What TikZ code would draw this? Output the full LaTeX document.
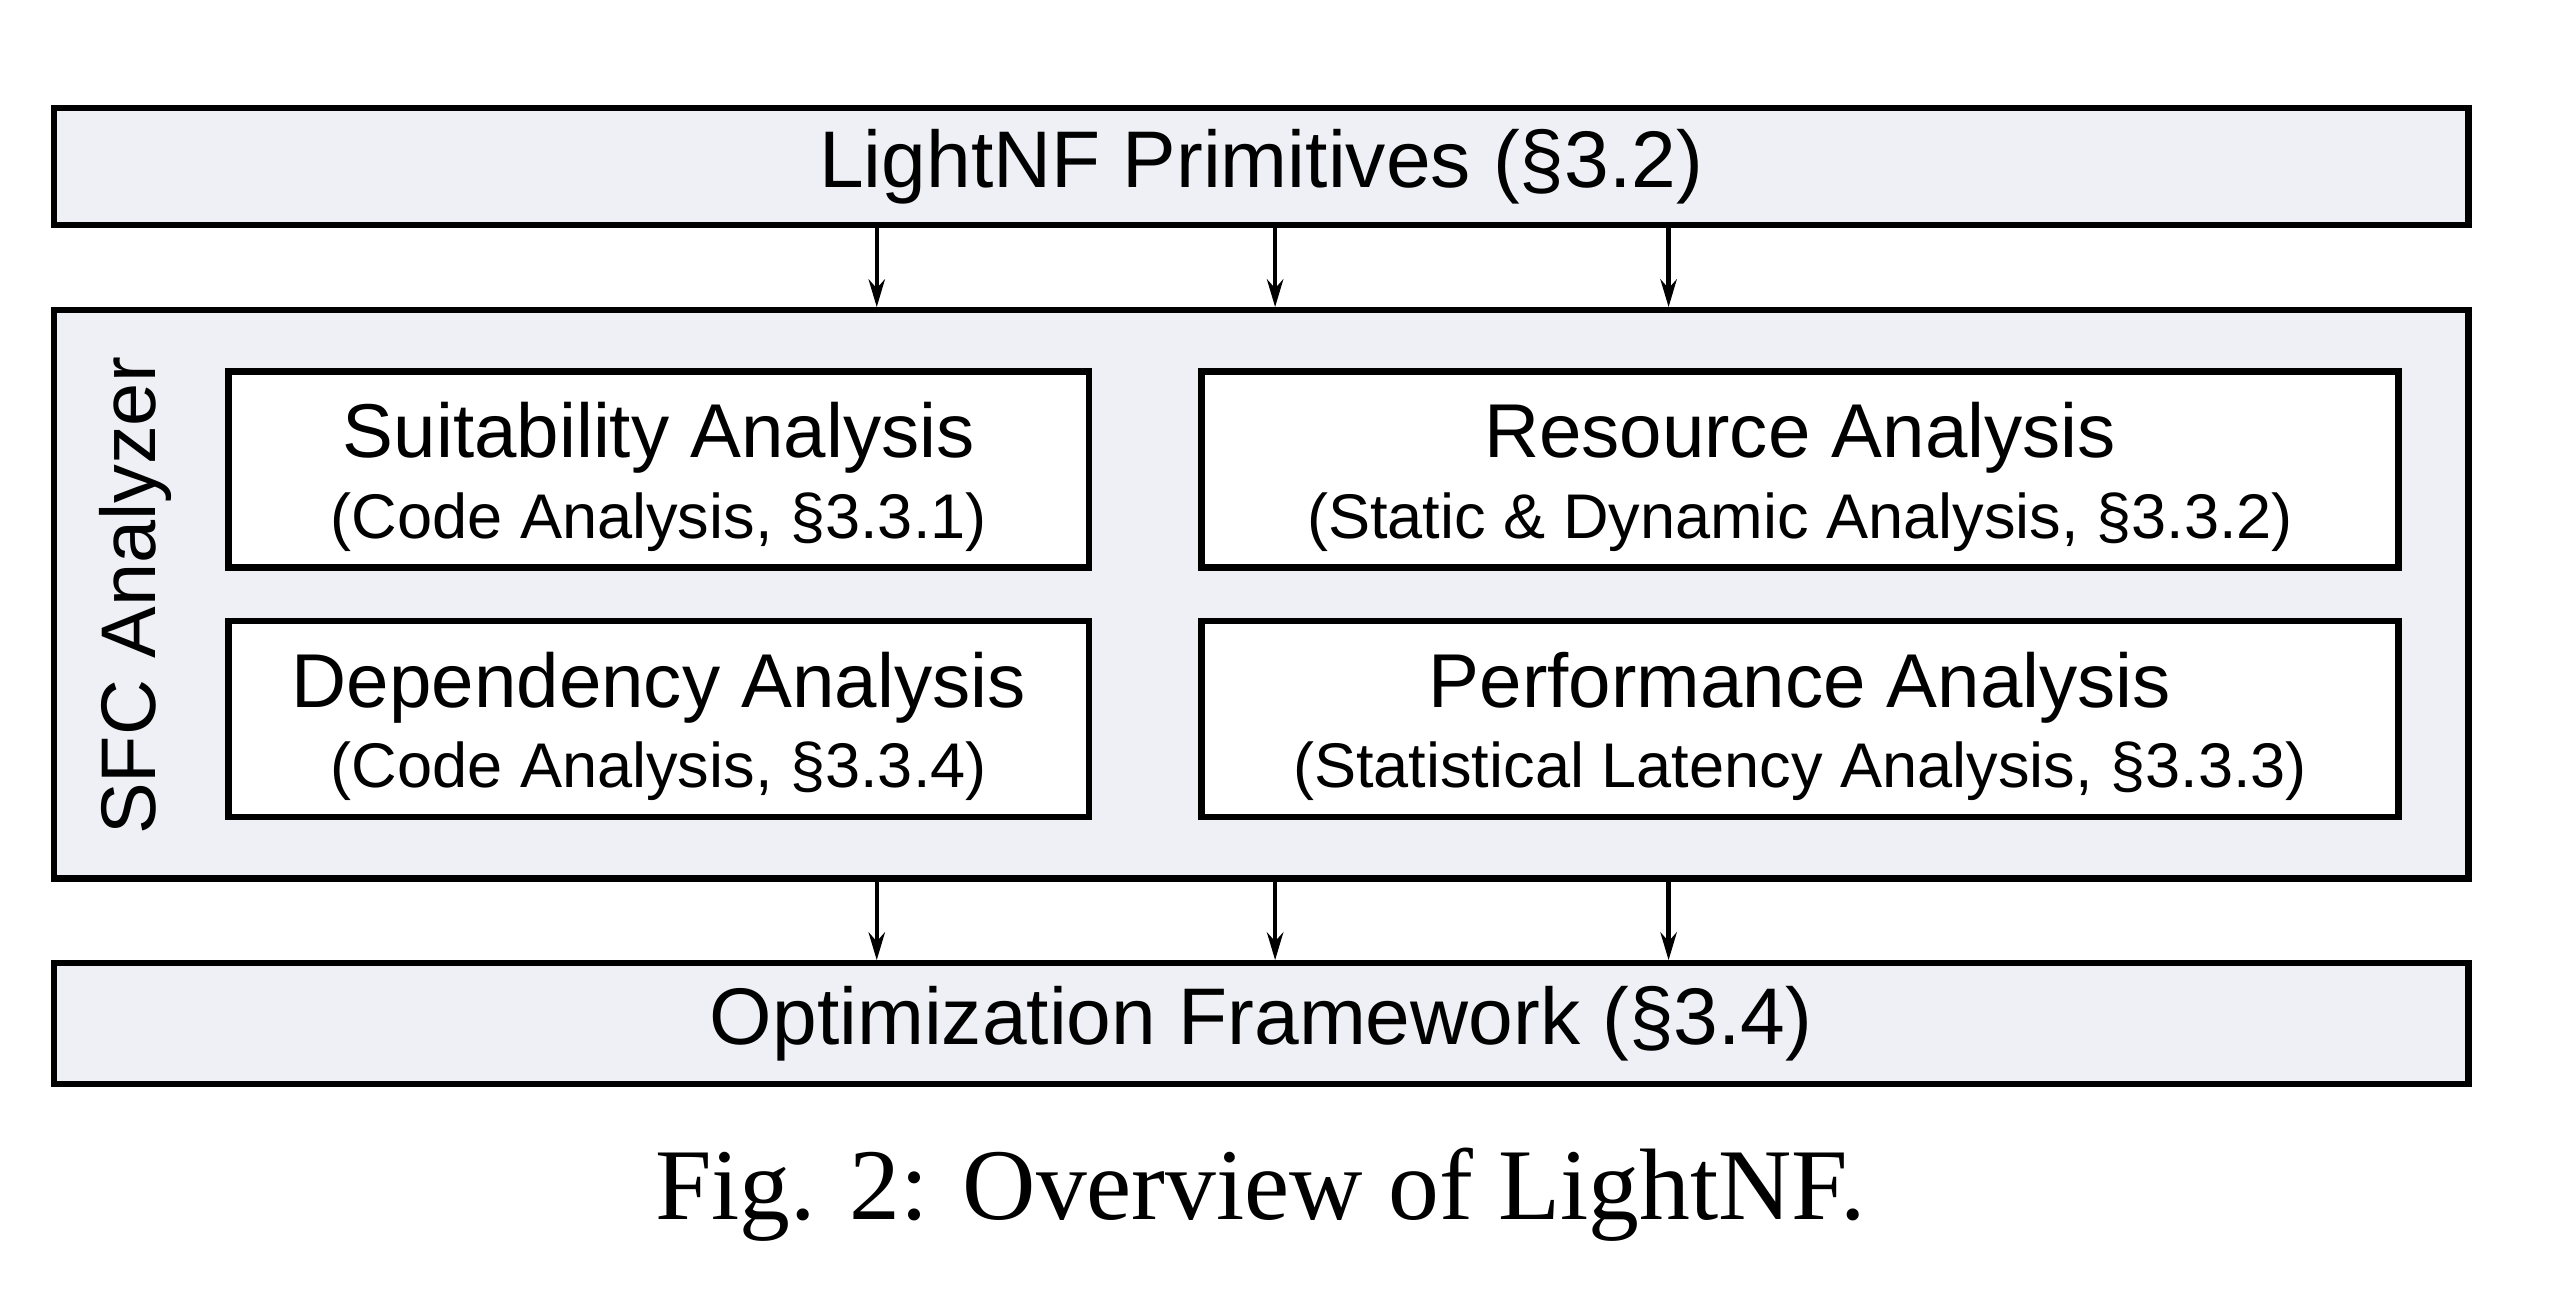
\documentclass[tikz,border=0pt]{standalone}
\usepackage{fontspec}
\newfontfamily\diagfont{Liberation Sans}
\newfontfamily\capfont{Liberation Serif}
\usetikzlibrary{arrows.meta}
\definecolor{panelgray}{RGB}{239,240,245}

\begin{document}
\begin{tikzpicture}[
	bar/.style={draw,line width=1.1pt,fill=panelgray,minimum width=14.79cm,inner sep=0pt,font=\diagfont\fontsize{14}{17}\selectfont},
	card/.style={draw,line width=1.1pt,fill=white,minimum height=1.2cm,inner sep=0pt,align=center,font=\diagfont\fontsize{13.3}{14}\selectfont},
	flow/.style={-{Stealth[length=0.17cm,width=0.1cm]},line width=0.75pt}]
	\useasboundingbox (0,0) rectangle (15.68,-8.04);
	\node[bar,minimum height=0.72cm] (prim) at (7.725,-1.02) {LightNF Primitives (§3.2)};
	\node[bar,minimum height=3.48cm] (sfc) at (7.725,-3.64) {};
	\node[bar,minimum height=0.74cm] (opt) at (7.725,-6.27) {Optimization Framework (§3.4)};
	\node[rotate=90,font=\diagfont\fontsize{13.5}{16}\selectfont] (sfclabel) at (0.83,-3.65) {SFC Analyzer};
	\node[card,minimum width=5.27cm] (suit) at (4.035,-2.875) {\rule{0pt}{0.43cm}Suitability Analysis\\{\fontsize{11}{13}\selectfont (Code Analysis, §3.3.1)}};
	\node[card,minimum width=7.33cm] (res) at (11.025,-2.875) {\rule{0pt}{0.43cm}Resource Analysis\\{\fontsize{11}{13}\selectfont (Static \& Dynamic Analysis, §3.3.2)}};
	\node[card,minimum width=5.27cm] (dep) at (4.035,-4.405) {\rule{0pt}{0.43cm}Dependency Analysis\\{\fontsize{11}{13}\selectfont (Code Analysis, §3.3.4)}};
	\node[card,minimum width=7.33cm] (perf) at (11.025,-4.405) {\rule{0pt}{0.43cm}Performance Analysis\\{\fontsize{11}{13}\selectfont (Statistical Latency Analysis, §3.3.3)}};
	\foreach \dx in {-2.355,0.085,2.495} {
		\draw[flow] ([xshift=\dx cm]prim.south) -- ([xshift=\dx cm]sfc.north);
		\draw[flow] ([xshift=\dx cm]sfc.south) -- ([xshift=\dx cm]opt.north);
	}
	\node[font=\capfont\fontsize{17.7}{21}\selectfont] (caption) at (7.72,-7.32) {Fig. 2: Overview of LightNF.};
\end{tikzpicture}
\end{document}
